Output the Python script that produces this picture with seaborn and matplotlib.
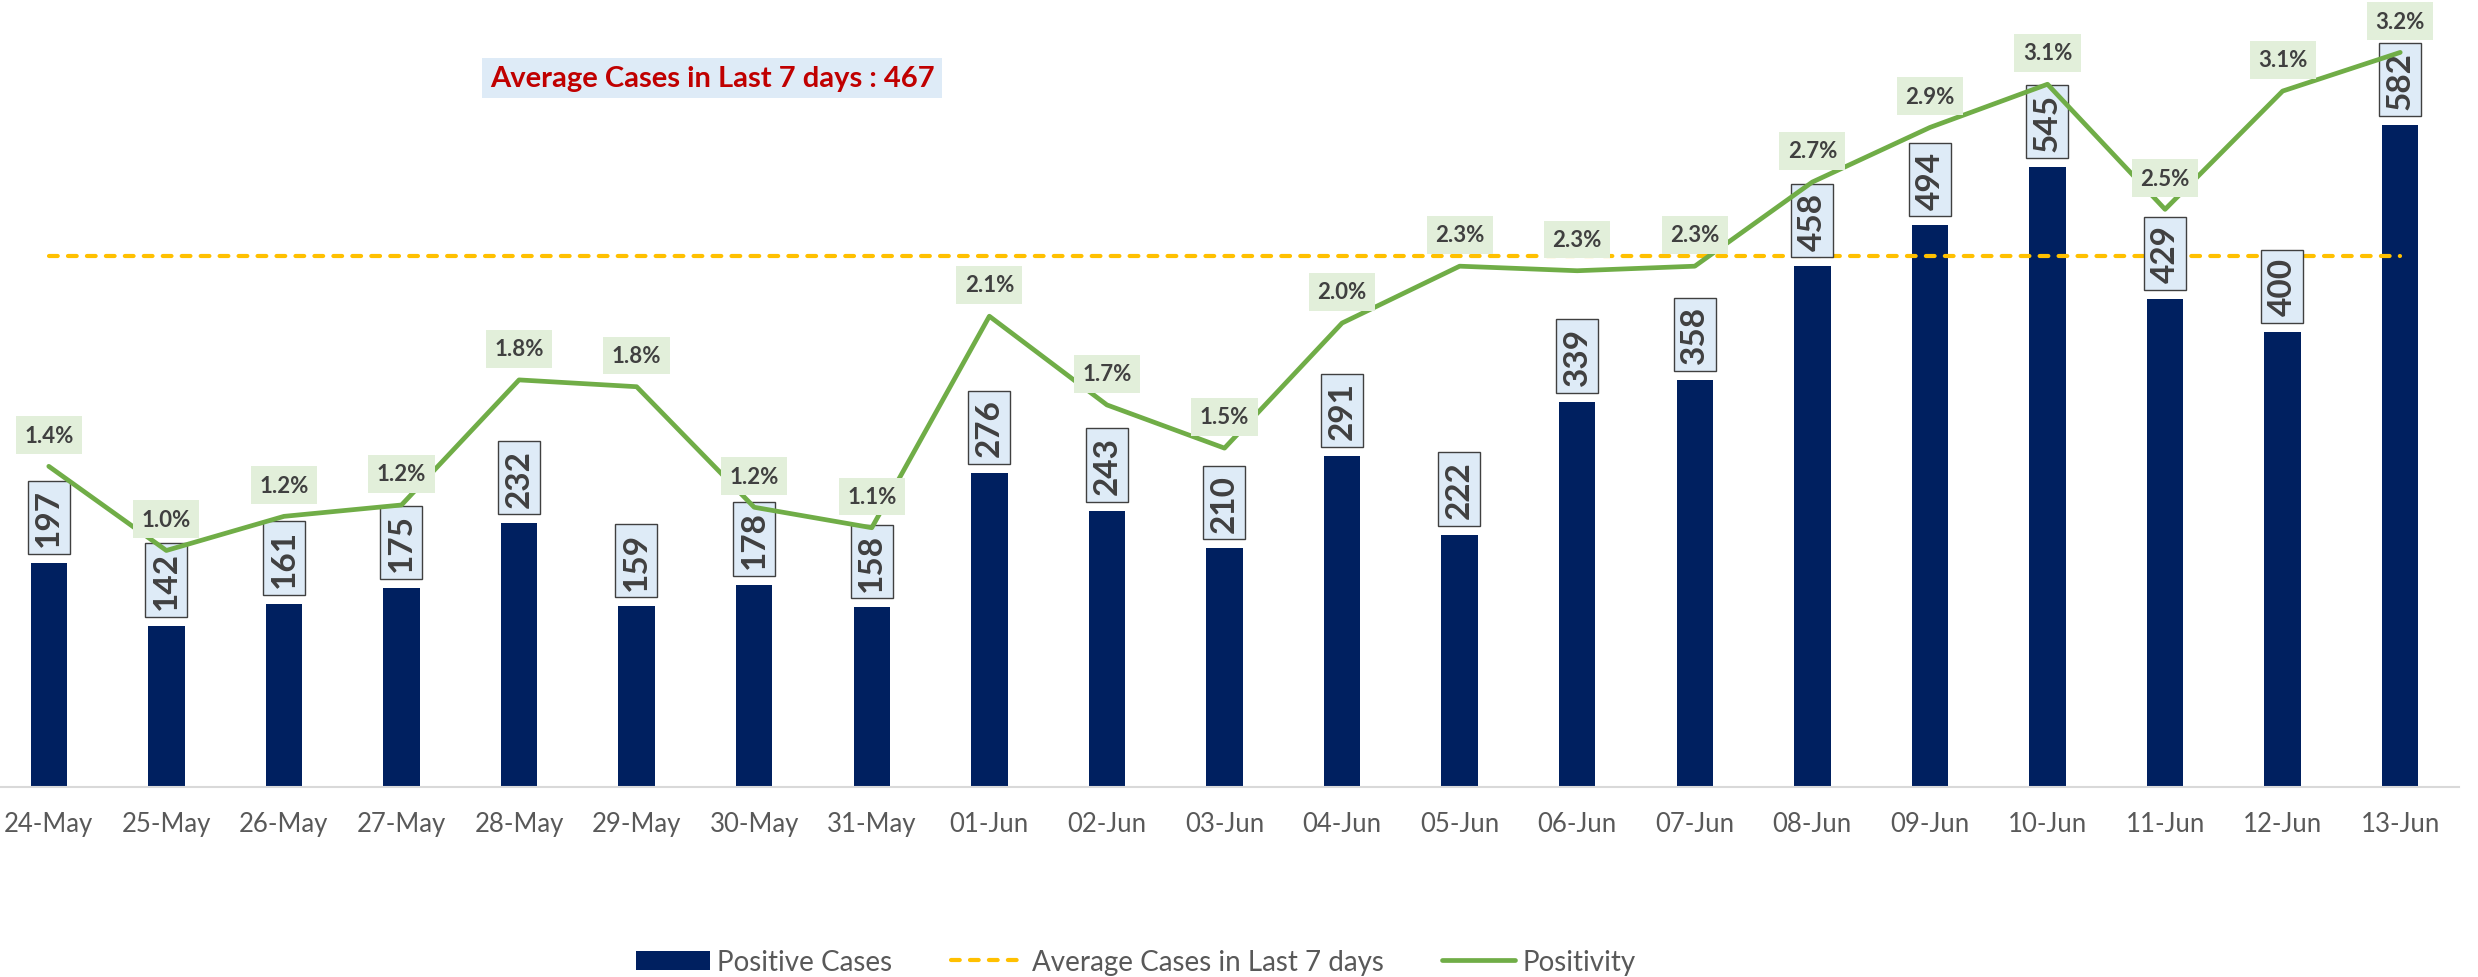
import numpy as np
import pandas as pd
import seaborn as sns
import matplotlib.pyplot as plt
from matplotlib.patches import Patch
from matplotlib.lines import Line2D
from matplotlib.path import Path

# data
dates = ["24-May", "25-May", "26-May", "27-May", "28-May", "29-May", "30-May",
         "31-May", "01-Jun", "02-Jun", "03-Jun", "04-Jun", "05-Jun", "06-Jun",
         "07-Jun", "08-Jun", "09-Jun", "10-Jun", "11-Jun", "12-Jun", "13-Jun"]
positive_cases = [197, 142, 161, 175, 232, 159, 178, 158, 276, 243, 210,
                  291, 222, 339, 358, 458, 494, 545, 429, 400, 582]
positivity = [1.41, 1.04, 1.19, 1.24, 1.79, 1.76, 1.23, 1.14, 2.07, 1.68, 1.49,
              2.04, 2.29, 2.27, 2.29, 2.66, 2.90, 3.09, 2.54, 3.06, 3.23]
avg_cases = 467

NAVY = "#002060"
GOLD = "#FFC000"
GREEN = "#70AD47"
GREY_TXT = "#595959"
DARK_TXT = "#404040"
AVG_DASH = (0, (2.1, 2.45))


def value_box(x0, y0, width, height, mutation_size):
    # excel style label box: long padding along the text, snug across it
    em = mutation_size
    cy = y0 + height - 0.43 * em
    px, hy = 0.23 * em, 0.63 * em
    x1, x2 = x0 - px, x0 + width + px
    y1, y2 = cy - hy, cy + hy
    return Path([(x1, y1), (x2, y1), (x2, y2), (x1, y2), (x1, y1)], closed=True)


sns.set_style("white")
plt.rcParams["font.family"] = ["Lato", "DejaVu Sans"]

df = pd.DataFrame({"date": dates, "cases": positive_cases, "positivity": positivity})
df["pos"] = np.arange(len(df))
df["avg"] = avg_cases

W, H = 2478, 978
fig = plt.figure(figsize=(W / 100, H / 100), dpi=100)
# axes placed in pixel terms, matching the excel plot area
left, right = -10, 2459
top, base = -8, 788
ax = fig.add_axes([left / W, 1 - base / H, (right - left) / W, (base - top) / H])

sns.barplot(data=df, x="date", y="cases", ax=ax, color=NAVY, width=0.31,
            saturation=1, linewidth=0)
sns.lineplot(data=df, x="pos", y="avg", ax=ax, color=GOLD, linewidth=3,
             linestyle=AVG_DASH, dash_capstyle="round")
ax.set_ylim(0, 700)

# bar labels, rotated, in light blue boxes
ax.bar_label(ax.containers[0], labels=[str(v) for v in positive_cases],
             padding=12, rotation=90, fontsize=24, fontweight="bold",
             color=DARK_TXT,
             bbox=dict(boxstyle=value_box, fc="#DEEBF7", ec="#404040", lw=1))

ax2 = ax.twinx()
sns.lineplot(data=df, x="pos", y="positivity", ax=ax2, color=GREEN,
             linewidth=3.4)
ax2.set_ylim(0, 3.5)
for i, v in enumerate(positivity):
    ax2.annotate(f"{v:.1f}%", xy=(i, v), xytext=(0, 22.5), textcoords="offset points",
                 ha="center", va="center", fontsize=16, fontweight="bold",
                 color=DARK_TXT, zorder=5,
                 bbox=dict(boxstyle="square,pad=0.38", fc="#E2EFDA", ec="none"))

ax.set_xlim(-0.5, len(dates) - 0.5)
ax2.set_xlim(-0.5, len(dates) - 0.5)

for a in (ax, ax2):
    a.set_xlabel("")
    a.set_ylabel("")
    a.set_yticks([])
    for s in ["top", "left", "right"]:
        a.spines[s].set_visible(False)
ax2.spines["bottom"].set_visible(False)
ax.spines["bottom"].set_color("#D9D9D9")
ax.spines["bottom"].set_linewidth(1.5)
ax.set_xticks(range(len(dates)))
ax.set_xticklabels(dates)
ax.tick_params(axis="x", length=0, pad=17, labelsize=18.5, labelcolor=GREY_TXT)

# title box
fig.text(712 / W, 1 - 79 / H, f"Average Cases in Last 7 days : {avg_cases}",
         ha="center", va="center", fontsize=21, fontweight="bold", color="#C00000",
         bbox=dict(boxstyle="square,pad=0.25", fc="#DEEBF7", ec="none"))

handles = [Patch(facecolor=NAVY, edgecolor="none"),
           Line2D([], [], color=GOLD, lw=3, linestyle=AVG_DASH, dash_capstyle="round"),
           Line2D([], [], color=GREEN, lw=3.4)]
fig.legend(handles, ["Positive Cases", "Average Cases in Last 7 days", "Positivity"],
           loc="center", bbox_to_anchor=(1136 / W, 1 - 963 / H), ncol=3,
           frameon=False, fontsize=20, handlelength=2.65, handletextpad=0.27,
           columnspacing=2.1, labelcolor=GREY_TXT)

fig.savefig("out.png", dpi=100)
